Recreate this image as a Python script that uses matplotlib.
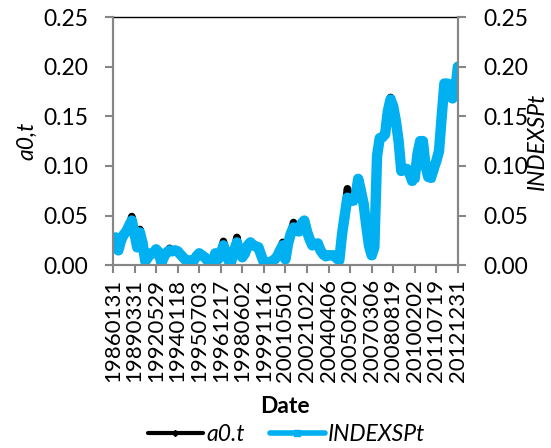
import matplotlib
matplotlib.use("Agg")
import matplotlib.pyplot as plt
import numpy as np

plt.rcParams['font.family'] = ['Lato', 'DejaVu Sans']

# labelled dates, one every 8 observations
tick_dates = ['19860131', '19890331', '19920529', '19940118', '19950703',
              '19961217', '19980602', '19991116', '20010501', '20021022',
              '20040406', '20050920', '20070306', '20080819', '20100202',
              '20110719', '20121231']
step = 8

indexsp = [0.020, 0.028, 0.015, 0.025, 0.031, 0.034, 0.040, 0.045, 0.032, 0.018,
           0.033, 0.022, 0.004, 0.008, 0.012, 0.012, 0.016, 0.013, 0.002, 0.009,
           0.013, 0.015, 0.014, 0.015, 0.014, 0.011, 0.008, 0.005, 0.005, 0.004,
           0.005, 0.009, 0.012, 0.010, 0.008, 0.005, 0.003, 0.004, 0.012, 0.006,
           0.012, 0.020, 0.012, 0.004, 0.005, 0.015, 0.023, 0.012, 0.008, 0.012,
           0.020, 0.023, 0.020, 0.019, 0.018, 0.010, 0.003, 0.003, 0.003, 0.004,
           0.006, 0.009, 0.015, 0.020, 0.006, 0.022, 0.032, 0.038, 0.035, 0.034,
           0.042, 0.045, 0.034, 0.026, 0.020, 0.021, 0.022, 0.015, 0.011, 0.009,
           0.010, 0.010, 0.010, 0.007, 0.005, 0.031, 0.050, 0.068, 0.066, 0.065,
           0.068, 0.087, 0.075, 0.062, 0.040, 0.020, 0.010, 0.018, 0.110, 0.128,
           0.129, 0.132, 0.155, 0.167, 0.160, 0.145, 0.125, 0.095, 0.096, 0.097,
           0.093, 0.085, 0.088, 0.112, 0.125, 0.125, 0.100, 0.089, 0.088, 0.097,
           0.105, 0.115, 0.150, 0.183, 0.183, 0.182, 0.168, 0.175, 0.200]

a0 = [0.020, 0.028, 0.015, 0.025, 0.031, 0.036, 0.040, 0.049, 0.032, 0.018,
      0.036, 0.022, 0.004, 0.008, 0.012, 0.012, 0.016, 0.013, 0.002, 0.009,
      0.013, 0.017, 0.014, 0.015, 0.014, 0.011, 0.008, 0.005, 0.005, 0.004,
      0.005, 0.009, 0.012, 0.010, 0.008, 0.005, 0.003, 0.004, 0.012, 0.006,
      0.012, 0.024, 0.012, 0.004, 0.005, 0.015, 0.028, 0.012, 0.008, 0.012,
      0.020, 0.023, 0.020, 0.019, 0.018, 0.010, 0.003, 0.003, 0.003, 0.004,
      0.006, 0.009, 0.015, 0.023, 0.006, 0.022, 0.032, 0.043, 0.035, 0.034,
      0.042, 0.045, 0.034, 0.026, 0.020, 0.021, 0.022, 0.015, 0.011, 0.009,
      0.010, 0.010, 0.010, 0.007, 0.005, 0.031, 0.050, 0.077, 0.066, 0.065,
      0.068, 0.087, 0.075, 0.062, 0.040, 0.020, 0.010, 0.018, 0.110, 0.128,
      0.129, 0.132, 0.155, 0.169, 0.160, 0.145, 0.125, 0.095, 0.096, 0.097,
      0.093, 0.085, 0.088, 0.112, 0.125, 0.125, 0.100, 0.089, 0.088, 0.097,
      0.105, 0.115, 0.150, 0.183, 0.183, 0.182, 0.168, 0.175, 0.200]

BLUE = '#00b0f0'
GRAY = '#868686'
FS = 16.5

x = np.arange(len(indexsp))

fig = plt.figure(figsize=(5.51, 4.48), dpi=100)
ax = fig.add_axes([0.205, 0.408, 0.626, 0.554])

ax.plot(x, a0, color='black', lw=5.5, marker='D', ms=3,
        solid_capstyle='round', label='a0.t', zorder=2)
ax.plot(x, indexsp, color=BLUE, lw=7.5, marker='s', ms=4,
        solid_capstyle='round', solid_joinstyle='round',
        label='INDEXSPt', zorder=3)

ax.set_xlim(0, len(indexsp) - 1)
ax.set_ylim(0, 0.25)
yt = np.arange(0, 0.26, 0.05)
ax.set_yticks(yt)
ax.set_yticklabels(['%.2f' % v for v in yt], fontsize=FS)
ax.set_xticks(np.arange(0, len(indexsp), step))
ax.set_xticklabels(tick_dates, rotation=90, fontsize=16)

for side in ['left', 'right', 'bottom']:
    ax.spines[side].set_color(GRAY)
    ax.spines[side].set_linewidth(1.5)
ax.spines['top'].set_color('black')
ax.spines['top'].set_linewidth(1.0)
ax.tick_params(axis='both', colors=GRAY, labelcolor='black', width=1.5,
               length=6, direction='out')
ax.tick_params(axis='y', pad=12)
ax.tick_params(axis='x', pad=4)

ax.set_ylabel('a0,t', fontsize=FS, style='italic', labelpad=4)
ax.set_xlabel('Date', fontsize=FS, fontweight='bold', labelpad=10)

# secondary axis with the same scale
ax2 = ax.twinx()
ax2.set_ylim(0, 0.25)
ax2.set_yticks(yt)
ax2.set_yticklabels(['%.2f' % v for v in yt], fontsize=FS)
for side in ['left', 'right', 'bottom']:
    ax2.spines[side].set_color(GRAY)
    ax2.spines[side].set_linewidth(1.5)
ax2.spines['top'].set_visible(False)
ax2.tick_params(axis='y', colors=GRAY, labelcolor='black', width=1.5,
                length=6, direction='out', pad=12)
ax2.set_ylabel('INDEXSPt', fontsize=FS, style='italic')
ax2.yaxis.set_label_coords(1.20, 0.5)

leg = fig.legend(loc='lower center', bbox_to_anchor=(0.52, -0.04), ncol=2,
                 frameon=False, handlelength=2.4, columnspacing=1.1,
                 handletextpad=0.15, prop={'size': FS, 'style': 'italic'})
for h, w in zip(leg.get_lines(), [3.0, 4.0]):
    h.set_linewidth(w)

fig.savefig('out.png', dpi=100)
